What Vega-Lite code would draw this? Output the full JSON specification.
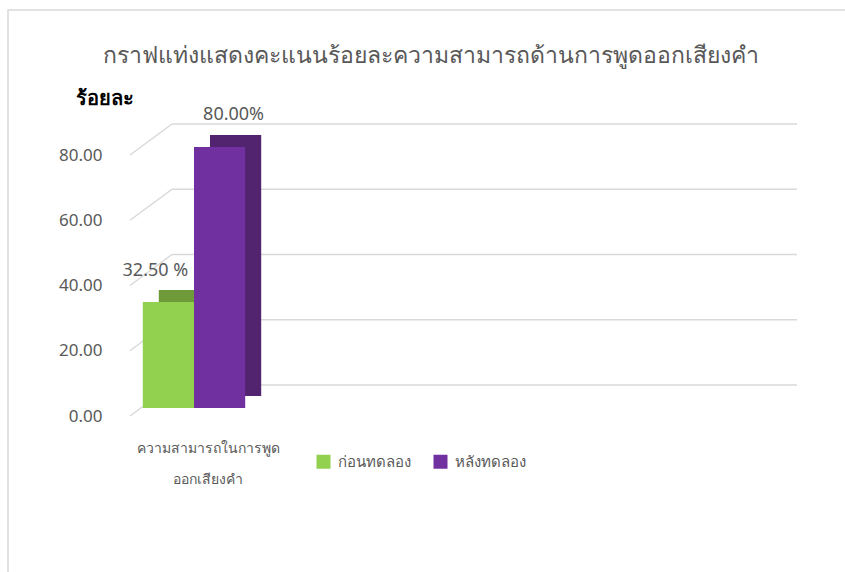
{
  "$schema": "https://vega.github.io/schema/vega-lite/v6.json",
  "width": 845,
  "height": 570,
  "autosize": "none",
  "padding": {"left": 8, "top": 10, "right": 0, "bottom": 0},
  "background": "white",
  "config": {
    "view": {"stroke": "#d9d9d9", "strokeWidth": 1.5},
    "font": "Noto Sans"
  },
  "title": {
    "text": "กราฟแท่งแสดงคะแนนร้อยละความสามารถด้านการพูดออกเสียงคำ",
    "anchor": "middle",
    "frame": "group",
    "orient": "top",
    "offset": -76,
    "baseline": "alphabetic",
    "fontSize": 23,
    "fontWeight": "normal",
    "color": "#595959"
  },
  "datasets": {
    "scores": [
      {"cat": "ความสามารถในการพูดออกเสียงคำ", "series": "ก่อนทดลอง", "value": 32.5, "label": "32.50 %"},
      {"cat": "ความสามารถในการพูดออกเสียงคำ", "series": "หลังทดลอง", "value": 80, "label": "80.00%"}
    ],
    "ticks": [
      {"v": 0},
      {"v": 20},
      {"v": 40},
      {"v": 60},
      {"v": 80}
    ]
  },
  "resolve": {"scale": {"x": "independent", "xOffset": "independent"}, "axis": {"x": "independent"}},
  "layer": [
    {
      "data": {"name": "ticks"},
      "layer": [
        {
          "mark": {"type": "rule", "color": "#d9d9d9", "strokeWidth": 1.5, "yOffset": -23},
          "encoding": {
            "x": {"datum": 42, "type": "quantitative", "scale": {"domain": [0, 667], "range": [122, 789], "nice": false, "zero": false}, "axis": null},
            "x2": {"datum": 667},
            "y": {"field": "v", "type": "quantitative"}
          }
        },
        {
          "mark": {"type": "rule", "color": "#d9d9d9", "strokeWidth": 1.5, "yOffset": 8, "y2Offset": -23},
          "encoding": {
            "x": {"datum": 0, "type": "quantitative"},
            "x2": {"datum": 42},
            "y": {"field": "v", "type": "quantitative"},
            "y2": {"field": "v"}
          }
        }
      ]
    },
    {
      "data": {"name": "scores"},
      "mark": {"type": "bar", "yOffset": -12, "y2Offset": -12},
      "encoding": {
        "x": {"field": "cat", "type": "nominal", "scale": {"range": [138, 266], "paddingInner": 0, "paddingOuter": 0}, "axis": null},
        "xOffset": {"field": "series", "type": "nominal", "scale": {"paddingInner": 0, "paddingOuter": 0.25}},
        "y": {"field": "value", "type": "quantitative"},
        "color": {
          "condition": {"test": "datum.series === 'ก่อนทดลอง'", "value": "#6e9a3a"},
          "value": "#52236f"
        }
      }
    },
    {
      "data": {"name": "scores"},
      "encoding": {
        "x": {
          "field": "cat",
          "type": "nominal",
          "scale": {"range": [122, 250], "paddingInner": 0, "paddingOuter": 0},
          "axis": {
            "orient": "bottom",
            "title": null,
            "domain": false,
            "ticks": false,
            "offset": -145,
            "labelPadding": 6,
            "labelAngle": 0,
            "labelAlign": "center",
            "labelOffset": 14,
            "labelFontSize": 14,
            "labelColor": "#595959",
            "labelLineHeight": 31,
            "labelBaseline": "top",
            "labelExpr": "[substring(datum.label, 0, 18), substring(datum.label, 18)]"
          }
        },
        "xOffset": {
          "field": "series",
          "type": "nominal",
          "scale": {"paddingInner": 0, "paddingOuter": 0.25}
        },
        "y": {
          "field": "value",
          "type": "quantitative",
          "scale": {"domain": [0, 80], "nice": false, "range": [398, 137]},
          "axis": {
            "values": [0, 20, 40, 60, 80],
            "format": ".2f",
            "grid": false,
            "domain": false,
            "ticks": false,
            "offset": -102,
            "labelPadding": 8,
            "labelOffset": 8,
            "labelFontSize": 17,
            "labelColor": "#595959",
            "title": "ร้อยละ",
            "titleAngle": 0,
            "titleAlign": "left",
            "titleBaseline": "middle",
            "titleX": -35,
            "titleY": 88,
            "titleFontSize": 20,
            "titleFontWeight": "bold",
            "titleColor": "#000000"
          }
        }
      },
      "layer": [
        {
          "mark": {"type": "bar"},
          "encoding": {
            "color": {
              "field": "series",
              "type": "nominal",
              "scale": {"domain": ["ก่อนทดลอง", "หลังทดลอง"], "range": ["#92d050", "#7030a0"]},
              "legend": {
                "title": null,
                "orient": "none",
                "direction": "horizontal",
                "legendX": 308,
                "legendY": 444,
                "symbolType": "square",
                "symbolSize": 196,
                "symbolStrokeWidth": 0,
                "labelFontSize": 15,
                "labelColor": "#595959",
                "columnPadding": 22,
                "labelOffset": 7
              }
            }
          }
        },
        {
          "transform": [{"filter": "datum.series === 'ก่อนทดลอง'"}],
          "mark": {"type": "text", "baseline": "middle", "dy": -31, "dx": -13, "fontSize": 18, "color": "#595959"},
          "encoding": {
            "text": {"field": "label"}
          }
        },
        {
          "transform": [{"filter": "datum.series === 'หลังทดลอง'"}],
          "mark": {"type": "text", "baseline": "middle", "dy": -32, "dx": 14, "fontSize": 18, "color": "#595959"},
          "encoding": {
            "text": {"field": "label"}
          }
        }
      ]
    }
  ]
}
